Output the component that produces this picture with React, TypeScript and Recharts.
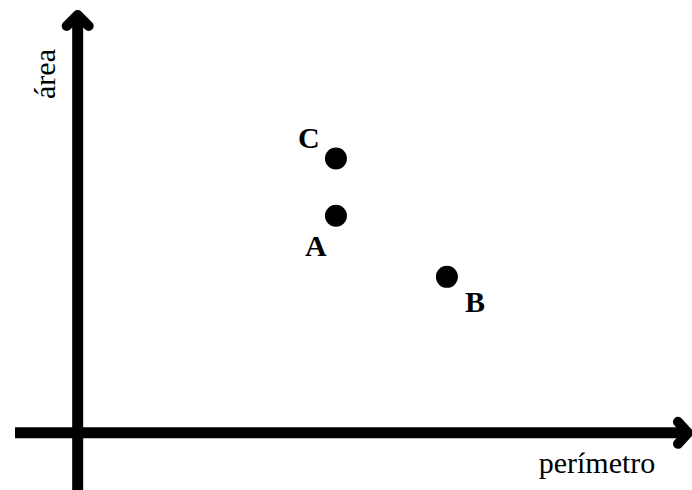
import { ScatterChart, Scatter, XAxis, YAxis, ReferenceLine, LabelList } from "recharts"

const names = ["A", "B", "C"]
const perimetro = [4.12, 5.89, 4.12]
const area = [3.8, 2.73, 4.8]

const X_DOMAIN = [-1, 9.8]
const Y_DOMAIN = [-1, 7.4]

const data = names.map((name, i) => ({ name, x: perimetro[i], y: area[i] }))

// where each letter sits relative to its dot
const LABEL_OFFSET: Record<string, [number, number]> = {
  A: [-20, 40],
  B: [28, 35],
  C: [-27, -11],
}

const FONT = '"Liberation Serif", "Times New Roman", serif'

function Dot(props: any) {
  return <circle cx={props.cx} cy={props.cy} r={11} fill="#000" />
}

function PointLabel(props: any) {
  const { x, y, width, height, value } = props
  const cx = x + width / 2
  const cy = y + height / 2
  const [dx, dy] = LABEL_OFFSET[value] || [0, 0]
  return (
    <text x={cx + dx} y={cy + dy} textAnchor="middle" fontFamily={FONT} fontSize={30} fontWeight="bold" fill="#000">
      {value}
    </text>
  )
}

function HArrow(props: any) {
  const { x1, y1, x2 } = props
  return (
    <g>
      <line x1={x1} y1={y1} x2={x2 - 4} y2={y1} stroke="#000" strokeWidth={11} />
      <polyline
        points={`${x2 - 14},${y1 - 11} ${x2 - 4},${y1} ${x2 - 14},${y1 + 11}`}
        fill="none"
        stroke="#000"
        strokeWidth={10}
        strokeLinecap="round"
        strokeLinejoin="round"
      />
      <text x={597} y={473} textAnchor="middle" fontFamily={FONT} fontSize={30} fill="#000">
        perímetro
      </text>
    </g>
  )
}

function VArrow(props: any) {
  const { x1, y1, y2 } = props
  const top = Math.min(y1, y2)
  const bottom = Math.max(y1, y2)
  return (
    <g>
      <line x1={x1} y1={top + 4} x2={x1} y2={bottom} stroke="#000" strokeWidth={11} />
      <polyline
        points={`${x1 - 11},${top + 16} ${x1},${top + 5} ${x1 + 11},${top + 16}`}
        fill="none"
        stroke="#000"
        strokeWidth={10}
        strokeLinecap="round"
        strokeLinejoin="round"
      />
      <text
        x={55}
        y={74}
        transform="rotate(-90, 55, 74)"
        textAnchor="middle"
        fontFamily={FONT}
        fontSize={30}
        fill="#000"
      >
        área
      </text>
    </g>
  )
}

export default function App() {
  return (
    <div style={{ position: "absolute", left: 0, top: 0, background: "#fff" }}>
      <ScatterChart width={692} height={490} margin={{ top: 10, right: 0, bottom: 0, left: 15 }}>
        <XAxis type="number" dataKey="x" domain={X_DOMAIN} hide allowDataOverflow />
        <YAxis type="number" dataKey="y" domain={Y_DOMAIN} hide allowDataOverflow />
        <ReferenceLine y={0} ifOverflow="visible" shape={HArrow} />
        <ReferenceLine x={0} ifOverflow="visible" shape={VArrow} />
        <Scatter data={data} shape={Dot} isAnimationActive={false}>
          <LabelList dataKey="name" content={PointLabel} />
        </Scatter>
      </ScatterChart>
    </div>
  )
}
